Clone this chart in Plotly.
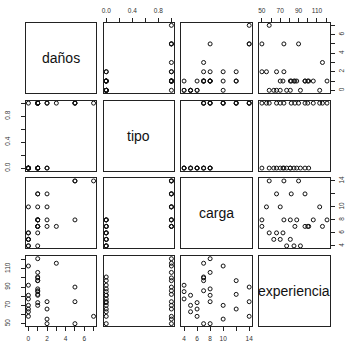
import plotly.graph_objects as go

# Variables of the scatterplot matrix
names = ["daños", "tipo", "carga", "experiencia"]

danos = [7, 5, 5, 2, 1, 1, 2, 1, 0, 5, 2, 1, 1, 1, 1,
         2, 1, 1, 1, 1, 3, 0, 0, 1, 0, 0, 0, 0, 1, 0]
tipo = [1, 1, 1, 1, 1, 1, 1, 1, 1, 1, 0, 0, 0, 1, 1,
        0, 1, 0, 1, 0, 1, 0, 0, 0, 0, 0, 0, 0, 0, 0]
carga = [14, 14, 14, 12, 12, 12, 10, 10, 10, 8, 8, 8, 8, 8, 8,
         7, 7, 7, 7, 7, 7, 6, 6, 6, 5, 5, 5, 4, 4, 4]
experiencia = [58, 74, 90, 66, 82, 97, 55, 70, 113, 50, 74, 81, 88, 106, 121,
               50, 86, 97, 100, 101, 116, 58, 66, 73, 63, 70, 81, 77, 85, 92]

columns = [danos, tipo, carga, experiencia]

# Tick positions and their printed labels (crowded labels left blank)
tick_vals = [
    [0, 1, 2, 3, 4, 5, 6, 7],
    [0, 0.2, 0.4, 0.6, 0.8, 1.0],
    [4, 6, 8, 10, 12, 14],
    [50, 60, 70, 80, 90, 100, 110, 120],
]
tick_text = [
    ["0", "", "2", "", "4", "", "6", ""],
    ["0.0", "", "0.4", "", "0.8", ""],
    ["4", "6", "8", "10", "", "14"],
    ["50", "", "70", "", "90", "", "110", ""],
]


def padded_range(v, frac=0.04):
    lo, hi = min(v), max(v)
    d = (hi - lo) * frac
    return [lo - d, hi + d]


W, H = 347, 342
LEFT0, STEP_X, PW = 24, 78.5, 71
TOP0, STEP_Y, PH = 21, 78.7, 71
n = len(names)

fig = go.Figure()
layout = dict(
    width=W, height=H,
    margin=dict(l=0, r=0, t=0, b=0),
    paper_bgcolor="white", plot_bgcolor="white",
    showlegend=False,
    font=dict(family="Liberation Sans, Arial, sans-serif"),
)
annotations = []

tick_font = dict(family="Liberation Sans, Arial, sans-serif", size=6.5, color="#333")
tick_style = dict(ticks="outside", ticklen=4, tickwidth=1, tickcolor="#222",
                  showticklabels=True, tickfont=tick_font)

for r in range(n):
    for c in range(n):
        k = r * n + c + 1
        xa = "xaxis" if k == 1 else f"xaxis{k}"
        ya = "yaxis" if k == 1 else f"yaxis{k}"
        xref = "x" if k == 1 else f"x{k}"
        yref = "y" if k == 1 else f"y{k}"

        x0 = (LEFT0 + c * STEP_X) / W
        x1 = (LEFT0 + c * STEP_X + PW) / W
        y1 = 1 - (TOP0 + r * STEP_Y) / H
        y0 = 1 - (TOP0 + r * STEP_Y + PH) / H

        xdict = dict(domain=[x0, x1], anchor=yref, range=padded_range(columns[c]),
                     showgrid=False, zeroline=False, showline=True, mirror=True,
                     linecolor="#222", linewidth=1, ticks="", showticklabels=False,
                     fixedrange=True)
        ydict = dict(domain=[y0, y1], anchor=xref, range=padded_range(columns[r]),
                     showgrid=False, zeroline=False, showline=True, mirror=True,
                     linecolor="#222", linewidth=1, ticks="", showticklabels=False,
                     fixedrange=True)

        # outer axes alternate between sides, as in a pairs() layout
        if r == 0 and c % 2 == 1:
            xdict.update(side="top", tickvals=tick_vals[c], ticktext=tick_text[c],
                         tickangle=0, ticklabelstandoff=2, **tick_style)
        if r == n - 1 and c % 2 == 0:
            xdict.update(side="bottom", tickvals=tick_vals[c], ticktext=tick_text[c],
                         tickangle=0, ticklabelstandoff=2, **tick_style)
        if c == 0 and r % 2 == 1:
            ydict.update(side="left", tickvals=tick_vals[r], ticktext=tick_text[r],
                         tickangle=-90, ticklabelstandoff=8, **tick_style)
        if c == n - 1 and r % 2 == 0:
            ydict.update(side="right", tickvals=tick_vals[r], ticktext=tick_text[r],
                         tickangle=-90, ticklabelstandoff=2, **tick_style)

        layout[xa] = xdict
        layout[ya] = ydict

        if r == c:
            # empty trace so the diagonal panel (and its box) is drawn
            fig.add_trace(go.Scatter(x=[None], y=[None], mode="markers",
                                     xaxis=xref, yaxis=yref, hoverinfo="skip"))
            annotations.append(dict(
                text=names[r], xref="paper", yref="paper",
                x=(x0 + x1) / 2, y=(y0 + y1) / 2, showarrow=False,
                xanchor="center", yanchor="middle",
                font=dict(size=14, color="#111",
                          family="Liberation Sans, Arial, sans-serif"),
            ))
        else:
            fig.add_trace(go.Scatter(
                x=columns[c], y=columns[r], mode="markers",
                xaxis=xref, yaxis=yref,
                marker=dict(symbol="circle-open", size=4, color="#111",
                            line=dict(width=1, color="#111")),
                hoverinfo="skip",
            ))

layout["annotations"] = annotations
fig.update_layout(**layout)
fig.write_html("out.html")
